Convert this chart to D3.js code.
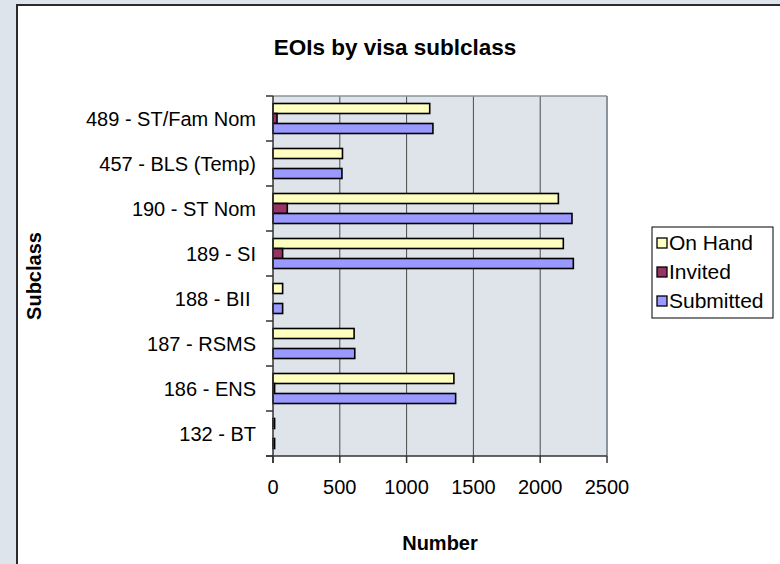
<!DOCTYPE html>
<html><head><meta charset="utf-8">
<script src="https://cdn.jsdelivr.net/npm/d3@7"></script>
<style>
html,body{margin:0;padding:0;background:#dde4ec;}
svg{display:block;}
text{font-family:"Liberation Sans",Arial,sans-serif;fill:#000;}
</style></head>
<body>
<script>
const categories = ["489 - ST/Fam Nom","457 - BLS (Temp)","190 - ST Nom","189 - SI","188 - BII ","187 - RSMS","186 - ENS","132 - BT"];
const seriesNames = ["On Hand","Invited","Submitted"];
const onHand    = [1173, 520, 2136, 2173, 72, 607, 1354, 12];
const invited   = [30, 0, 107, 72, 0, 0, 12, 0];
const submitted = [1197, 516, 2238, 2248, 72, 612, 1367, 12];
const xTicks = [0, 500, 1000, 1500, 2000, 2500];
const colors = ["#ffffc0","#993366","#9999ff"];

const W = 780, H = 564;
const svg = d3.select("body").append("svg").attr("width", W).attr("height", H);
// chart area
svg.append("rect").attr("x",17).attr("y",5).attr("width",W).attr("height",H).attr("fill","#fff");
svg.append("line").attr("x1",17).attr("x2",W).attr("y1",5).attr("y2",5).attr("stroke","#2b2b2b").attr("stroke-width",2);
svg.append("line").attr("x1",17).attr("x2",17).attr("y1",4).attr("y2",H).attr("stroke","#2b2b2b").attr("stroke-width",2);

const L = 273, R = 607, T = 96, B = 456;
const x = d3.scaleLinear().domain([0, 2500]).range([L, R]);
const y = d3.scaleBand().domain(categories).range([T, B]).paddingInner(1/3).paddingOuter(1/6);
const ySub = d3.scaleBand().domain(seriesNames).range([0, y.bandwidth()]);
const step = y.step();

// plot background
svg.append("rect").attr("x",L).attr("y",T).attr("width",R-L).attr("height",B-T).attr("fill","#dfe4ea");
// gridlines
svg.selectAll(".grid").data(xTicks.slice(1)).enter().append("line")
  .attr("x1",d=>x(d)).attr("x2",d=>x(d)).attr("y1",T).attr("y2",B)
  .attr("stroke",d=>d===2500?"#8a949e":"#4a4a4a").attr("stroke-width",d=>d===2500?2:1);
svg.append("line").attr("x1",L).attr("x2",R).attr("y1",T).attr("y2",T).attr("stroke","#8a949e").attr("stroke-width",1.5);

// bars
const seriesData = [onHand, invited, submitted];
seriesData.forEach((vals, si) => {
  svg.append("g").selectAll("rect").data(categories).enter().append("rect")
    .filter((c,i)=>vals[i] > 0)
    .attr("x", x(0))
    .attr("y", c => y(c) + ySub(seriesNames[si]))
    .attr("width", (c) => x(vals[categories.indexOf(c)]) - x(0))
    .attr("height", ySub.bandwidth())
    .attr("fill", colors[si]).attr("stroke","#000").attr("stroke-width",1.6);
});

// left axis
svg.append("line").attr("x1",L).attr("x2",L).attr("y1",T).attr("y2",B+7).attr("stroke","#333").attr("stroke-width",1.5);
const bounds = d3.range(categories.length+1).map(i => T + i*step);
svg.selectAll(".ytick").data(bounds).enter().append("line")
  .attr("x1",L-7).attr("x2",L).attr("y1",d=>d).attr("y2",d=>d).attr("stroke","#333").attr("stroke-width",1.5);
svg.selectAll(".ylab").data(categories).enter().append("text")
  .attr("x",L-17).attr("y",c=>y(c)+y.bandwidth()/2).attr("dy","0.35em")
  .attr("text-anchor","end").attr("font-size",20).style("white-space","pre").text(c=>c);

// bottom axis
svg.append("line").attr("x1",L-7).attr("x2",R).attr("y1",B).attr("y2",B).attr("stroke","#333").attr("stroke-width",1.5);
svg.selectAll(".xtick").data(xTicks).enter().append("line")
  .attr("x1",d=>x(d)).attr("x2",d=>x(d)).attr("y1",B).attr("y2",B+7).attr("stroke","#333").attr("stroke-width",1.5);
svg.selectAll(".xlab").data(xTicks).enter().append("text")
  .attr("x",d=>x(d)).attr("y",B+38).attr("text-anchor","middle").attr("font-size",20).text(d=>d);

// titles
svg.append("text").attr("x",395).attr("y",55).attr("text-anchor","middle").attr("font-size",22.5).attr("font-weight","bold").text("EOIs by visa sublclass");
svg.append("text").attr("x",440).attr("y",550).attr("text-anchor","middle").attr("font-size",20).attr("font-weight","bold").text("Number");
svg.append("text").attr("transform","translate(41,"+((T+B)/2)+") rotate(-90)").attr("text-anchor","middle").attr("font-size",20).attr("font-weight","bold").text("Subclass");

// legend
const lg = svg.append("g");
lg.append("rect").attr("x",652).attr("y",227).attr("width",121).attr("height",91).attr("fill","#fff").attr("stroke","#000").attr("stroke-width",1);
seriesNames.forEach((s,i) => {
  const cy = 243 + i*29;
  lg.append("rect").attr("x",657).attr("y",cy-5).attr("width",10).attr("height",10).attr("fill",colors[i]).attr("stroke","#000").attr("stroke-width",1.3);
  lg.append("text").attr("x",669).attr("y",cy).attr("dy","0.35em").attr("font-size",21).text(s);
});
</script>
</body></html>
